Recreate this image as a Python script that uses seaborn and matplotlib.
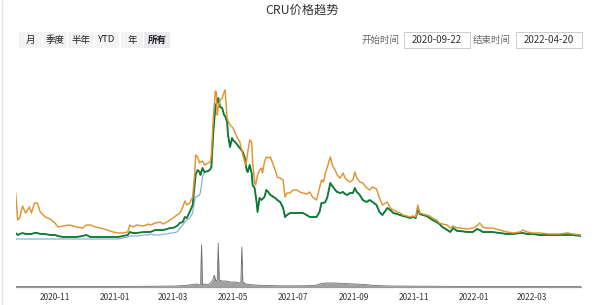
import numpy as np
import pandas as pd
import matplotlib
matplotlib.use("Agg")
import matplotlib.pyplot as plt
import matplotlib.dates as mdates
from matplotlib.patches import Rectangle
from matplotlib.lines import Line2D
import seaborn as sns

sns.set_style("white")
plt.rcParams["font.family"] = ["Noto Sans CJK SC", "DejaVu Sans"]

# ---------------- data ----------------
START = "2020-09-22"
END = "2022-04-20"
TITLE = "CRU价格趋势"
range_buttons = ["月", "季度", "半年", "YTD", "年", "所有"]
start_label, end_label = "开始时间", "结束时间"

# days since START
days = [0, 2, 4, 7, 10, 14, 16, 19, 22, 25, 30, 35, 40, 43, 48, 55, 62, 68, 72, 76,
        81, 86, 93, 99, 104, 109, 114, 116, 119, 123, 130, 135, 137, 142, 147, 150, 154, 157, 160, 164,
        167, 170, 172, 174, 177, 180, 182, 183, 185, 187, 188, 190, 192, 196, 198, 199, 201, 203, 204, 205,
        206, 208, 210, 212, 213, 215, 216, 218, 220, 221, 224, 228, 231, 233, 234, 235, 236, 238, 240, 241,
        243, 244, 245, 246, 248, 250, 251, 253, 255, 257, 259, 261, 262, 264, 266, 269, 272, 274, 276, 279,
        282, 286, 289, 292, 296, 299, 302, 306, 309, 311, 313, 315, 317, 320, 322, 323, 325, 327, 330, 333,
        335, 337, 340, 343, 345, 347, 350, 353, 357, 360, 363, 367, 370, 373, 378, 381, 384, 388, 391, 394,
        398, 401, 404, 407, 409, 411, 414, 418, 421, 424, 428, 431, 434, 439, 442, 445, 449, 452, 459, 465,
        469, 472, 475, 479, 485, 492, 500, 506, 513, 516, 520, 526, 533, 543, 553, 561, 567, 575]

price_orange = [48, 21, 23, 35, 28, 34, 28, 38, 38, 29, 24, 22, 18, 14, 15, 16, 14, 13, 16, 16,
                14, 13, 11, 9, 8, 8, 9, 16, 14, 16, 15, 17, 16, 18, 19, 17, 19, 21, 23, 26,
                28, 34, 40, 36, 38, 44, 66, 86, 84, 78, 79, 80, 76, 78, 79, 86, 123, 150, 149, 126,
                133, 141, 143, 149, 151, 123, 120, 116, 114, 113, 106, 99, 86, 79, 76, 81, 89, 101, 99, 79,
                59, 56, 61, 66, 71, 73, 68, 79, 84, 83, 84, 79, 76, 71, 64, 63, 61, 44, 48, 48,
                51, 51, 49, 48, 47, 49, 44, 41, 53, 61, 59, 68, 74, 84, 76, 74, 71, 66, 63, 68,
                63, 61, 59, 61, 69, 63, 59, 58, 53, 51, 54, 52, 43, 36, 39, 33, 31, 29, 28, 26,
                25, 24, 25, 24, 36, 28, 27, 26, 25, 23, 21, 18, 17, 16, 13, 15, 13, 13, 12, 13,
                15, 18, 14, 13, 13, 11, 9, 8, 9, 11, 9, 8, 8, 7, 7, 8, 7, 6]

price_green = [8, 6, 7, 8, 7, 7, 7, 8, 8, 7, 7, 6, 6, 5, 4, 4, 4, 5, 6, 4,
               4, 4, 4, 4, 4, 5, 6, 9, 8, 8, 9, 9, 9, 11, 11, 11, 12, 13, 13, 15,
               18, 19, 24, 23, 29, 36, 56, 66, 71, 69, 66, 73, 69, 70, 72, 74, 109, 133, 137, 139,
               143, 134, 133, 126, 125, 119, 106, 94, 103, 101, 98, 93, 89, 83, 76, 71, 69, 76, 68, 56,
               53, 46, 39, 29, 43, 41, 42, 44, 51, 49, 46, 45, 44, 43, 41, 39, 33, 24, 26, 28,
               28, 28, 28, 28, 26, 24, 24, 24, 29, 38, 38, 39, 44, 58, 55, 54, 51, 49, 48, 49,
               47, 46, 48, 48, 53, 49, 46, 41, 39, 41, 39, 36, 29, 26, 33, 31, 28, 27, 26, 25,
               24, 23, 24, 23, 32, 27, 26, 25, 23, 21, 19, 17, 14, 11, 9, 13, 10, 10, 9, 9,
               12, 11, 9, 9, 9, 8, 7, 7, 8, 8, 7, 7, 6, 6, 6, 6, 6, 5]

price_blue = [2, 2, 2, 2, 2, 2, 2, 2, 2, 2, 2, 2, 2, 2, 2, 2, 2, 2, 2, 2,
              2, 2, 2, 2, 2, 3, 4, 5, 5, 5, 6, 6, 7, 6, 6, 7, 7, 8, 8, 9,
              13, 16, 19, 21, 23, 28, 41, 44, 45, 46, 49, 64, 69, 70, 72, 74, 109, 133, 137, 139,
              143, 134, 133, 126, 125, 119, 106, 94, 103, 101, 98, 93, 89, 83, 76, 71, 69, 76, 68, 56,
              53, 46, 39, 29, 43, 41, 42, 44, 51, 49, 46, 45, 44, 43, 41, 39, 33, 24, 26, 28,
              28, 28, 28, 28, 26, 24, 24, 24, 29, 38, 38, 39, 44, 58, 55, 54, 51, 49, 48, 49,
              47, 46, 48, 48, 53, 49, 46, 41, 39, 41, 39, 36, 29, 26, 33, 31, 28, 27, 26, 25,
              24, 23, 24, 23, 32, 27, 26, 25, 23, 21, 19, 17, 14, 11, 9, 13, 10, 10, 9, 9,
              12, 11, 9, 9, 9, 8, 7, 7, 8, 8, 7, 7, 6, 6, 6, 8, 7, 6]

vol_days = [0, 86, 137, 162, 172, 180, 184, 187, 188, 189, 190, 192, 196, 198, 200, 202, 203, 204,
            205, 206, 207, 210, 214, 218, 223, 228, 229, 230, 231, 234, 238, 243, 253, 269, 289, 304,
            309, 315, 325, 335, 345, 355, 365, 381, 411, 472, 575]
volume = [0.5, 0.5, 0.7, 1.0, 1.5, 2.5, 3.0, 2.0, 2.0, 42, 2.0, 3.0, 2.5, 4.0, 6.0, 12, 8.0, 6.0,
          7.0, 44, 7.0, 6.0, 6.0, 5.0, 5.0, 4.0, 4.0, 40, 5.0, 3.0, 2.5, 2.0, 1.5, 1.2, 1.2, 1.5,
          3.0, 4.0, 4.0, 3.5, 3.0, 2.5, 1.5, 1.0, 0.8, 0.5, 0.5]

# ---------------- figure ----------------
W, H = 600, 305
fig = plt.figure(figsize=(W / 100, H / 100), dpi=100)
fig.patch.set_facecolor("white")


def box(x0, y0, x1, y1):
    return [x0 / W, 1 - y1 / H, (x1 - x0) / W, (y1 - y0) / H]


t0 = pd.Timestamp(START)
df = pd.DataFrame({
    "date": t0 + pd.to_timedelta(days, unit="D"),
    "orange": price_orange,
    "green": price_green,
    "blue": price_blue,
})
vdf = pd.DataFrame({"date": t0 + pd.to_timedelta(vol_days, unit="D"), "volume": volume})

ax = fig.add_axes(box(15.7, 85, 581, 241))
axv = fig.add_axes(box(15.7, 242, 581, 287), sharex=ax)

sns.lineplot(data=df, x="date", y="blue", ax=ax, color="#7ea7d8", lw=0.8)
sns.lineplot(data=df, x="date", y="green", ax=ax, color="#0e7a33", lw=1.35)
sns.lineplot(data=df, x="date", y="orange", ax=ax, color="#de9430", lw=1.05)
ax.set_ylim(0, 156)
ax.set_xlim(pd.Timestamp(START), pd.Timestamp(END))
ax.axis("off")

axv.fill_between(vdf["date"], vdf["volume"], 0, color="#a0a0a0", lw=0)
sns.lineplot(data=vdf, x="date", y="volume", ax=axv, color="#707070", lw=0.6)
axv.set_ylim(0, 45)
for s in ["top", "left", "right"]:
    axv.spines[s].set_visible(False)
axv.spines["bottom"].set_color("#9a9a9a")
axv.spines["bottom"].set_linewidth(0.9)
axv.set_yticks([])
axv.set_xlabel("")
axv.set_ylabel("")
axv.xaxis.set_major_locator(mdates.MonthLocator(bymonth=[1, 3, 5, 7, 9, 11]))
axv.xaxis.set_major_formatter(mdates.DateFormatter("%Y-%m"))
axv.tick_params(axis="x", direction="inout", length=4, width=0.6, color="#c8c8c8",
                labelsize=6, labelcolor="#333333", pad=2.5)
axv.set_facecolor("none")

# ---------------- title & controls ----------------
fig.text(302 / W, 1 - 10 / H, TITLE, ha="center", va="center", fontsize=8.8, color="#333333")

btn_x = [(19, 42), (43, 67), (68, 94), (95, 119), (121, 143), (144, 170)]
for (x0, x1), lab in zip(btn_x, range_buttons):
    sel = lab == "所有"
    fig.patches.append(Rectangle((x0 / W, 1 - 48 / H), (x1 - x0) / W, 16 / H,
                                 transform=fig.transFigure, facecolor="#e9e9ee" if sel else "#f3f3f3",
                                 edgecolor="none"))
    fig.text((x0 + x1) / 2 / W, 1 - 40 / H, lab, ha="center", va="center", fontsize=6.8,
             color="#222222", fontweight="bold" if sel else "normal")

fig.text(381 / W, 1 - 40 / H, start_label, ha="center", va="center", fontsize=6.8, color="#666666")
fig.text(492 / W, 1 - 40 / H, end_label, ha="center", va="center", fontsize=6.8, color="#666666")
for (x0, x1), lab in [((404, 470), START), ((516, 582), END)]:
    fig.patches.append(Rectangle((x0 / W, 1 - 48 / H), (x1 - x0) / W, 16 / H,
                                 transform=fig.transFigure, facecolor="white",
                                 edgecolor="#cccccc", lw=0.7))
    fig.text((x0 + x1) / 2 / W, 1 - 40 / H, lab, ha="center", va="center", fontsize=7,
             color="#333333")

fig.lines.append(Line2D([2 / W, 2 / W], [0, 1], transform=fig.transFigure, color="#e2e2e2", lw=1))

fig.savefig("out.png", dpi=100, facecolor="white")
